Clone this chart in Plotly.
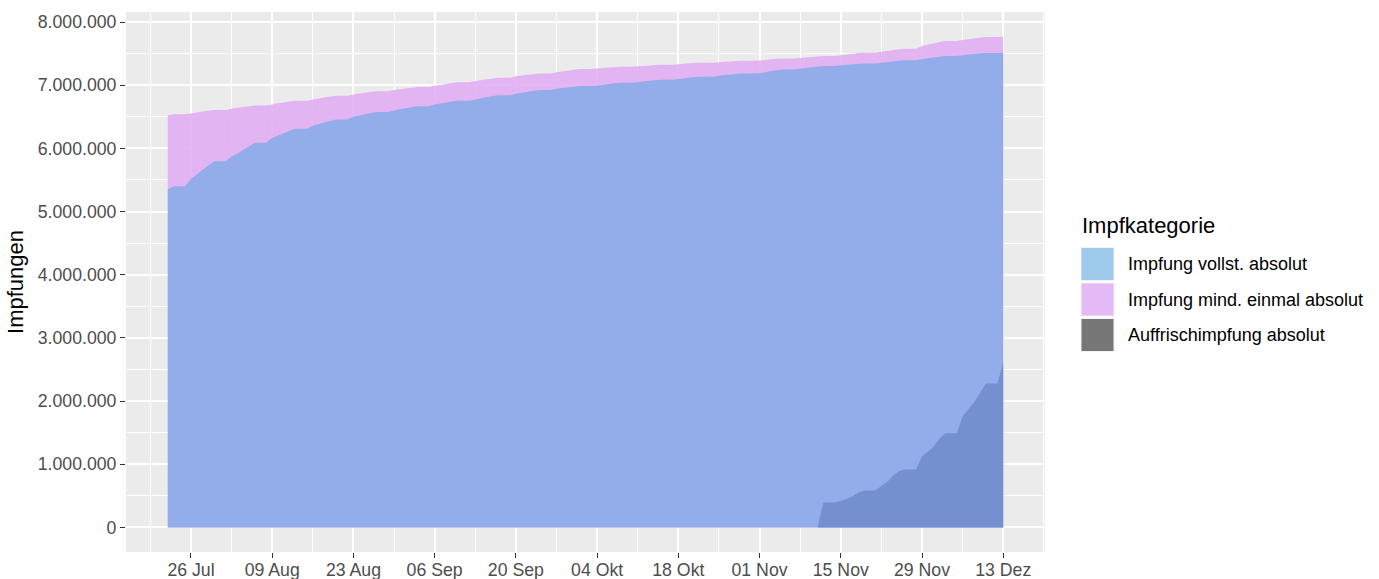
import pandas as pd
import plotly.graph_objects as go

# ---------------- data (thousands of vaccinations) ----------------
dates = pd.date_range("2021-07-22", "2021-12-13", freq="D")

# Impfung mind. einmal absolut (first dose), Thu 22 Jul .. Mon 13 Dez, week rows Mon..Sun
first_dose_k = [
    6526, 6540, 6540, 6540,
    6553, 6568, 6582, 6595, 6607, 6607, 6607,
    6627, 6642, 6655, 6667, 6678, 6678, 6678,
    6696, 6713, 6728, 6742, 6755, 6755, 6755,
    6775, 6791, 6806, 6820, 6833, 6833, 6833,
    6854, 6867, 6880, 6893, 6905, 6905, 6905,
    6922, 6935, 6948, 6960, 6972, 6972, 6972,
    6990, 7005, 7020, 7033, 7045, 7045, 7045,
    7065, 7080, 7094, 7107, 7118, 7118, 7118,
    7140, 7152, 7164, 7175, 7185, 7185, 7185,
    7205, 7217, 7230, 7243, 7255, 7255, 7255,
    7265, 7272, 7279, 7285, 7290, 7290, 7290,
    7298, 7305, 7312, 7318, 7323, 7323, 7323,
    7332, 7339, 7346, 7352, 7357, 7357, 7357,
    7365, 7371, 7377, 7382, 7387, 7387, 7387,
    7392, 7400, 7412, 7418, 7424, 7424, 7424,
    7432, 7440, 7448, 7456, 7463, 7463, 7463,
    7475, 7487, 7498, 7508, 7515, 7515, 7515,
    7530, 7543, 7555, 7567, 7578, 7578, 7578,
    7620, 7640, 7660, 7682, 7700, 7700, 7700,
    7715, 7728, 7740, 7752, 7762, 7762, 7762,
    7770,
]

# Impfung vollst. absolut (fully vaccinated)
full_k = [
    5349, 5400, 5400, 5400,
    5518, 5586, 5660, 5730, 5797, 5797, 5797,
    5870, 5920, 5975, 6030, 6089, 6089, 6089,
    6168, 6205, 6240, 6278, 6311, 6311, 6311,
    6358, 6385, 6410, 6435, 6458, 6458, 6458,
    6500, 6521, 6540, 6558, 6574, 6574, 6574,
    6600, 6618, 6635, 6650, 6665, 6665, 6665,
    6696, 6712, 6727, 6741, 6755, 6755, 6755,
    6775, 6795, 6812, 6828, 6842, 6842, 6842,
    6865, 6880, 6895, 6910, 6922, 6922, 6922,
    6945, 6955, 6965, 6975, 6986, 6986, 6986,
    6990, 7005, 7018, 7030, 7040, 7040, 7040,
    7050, 7060, 7070, 7080, 7088, 7088, 7088,
    7100, 7110, 7120, 7128, 7135, 7135, 7135,
    7150, 7160, 7170, 7178, 7185, 7185, 7185,
    7190, 7205, 7224, 7238, 7250, 7250, 7250,
    7262, 7273, 7284, 7295, 7305, 7305, 7305,
    7315, 7322, 7330, 7336, 7342, 7342, 7342,
    7355, 7365, 7375, 7385, 7395, 7395, 7395,
    7410, 7425, 7440, 7452, 7462, 7462, 7462,
    7475, 7485, 7494, 7502, 7510, 7510, 7510,
    7515,
]

# Auffrischimpfung absolut (booster), from Thu 11 Nov
booster_dates = pd.date_range("2021-11-11", "2021-12-13", freq="D")
booster_k = [
    0, 395, 395, 395,
    420, 450, 490, 550, 585, 585, 585,
    655, 720, 820, 890, 917, 917, 917,
    1125, 1200, 1280, 1400, 1490, 1490, 1490,
    1760, 1870, 1980, 2130, 2280, 2280, 2280,
    2610,
]

y_ticks = [0, 1000000, 2000000, 3000000, 4000000, 5000000, 6000000, 7000000, 8000000]
x_tick_dates = ["2021-07-26", "2021-08-09", "2021-08-23", "2021-09-06", "2021-09-20",
                "2021-10-04", "2021-10-18", "2021-11-01", "2021-11-15", "2021-11-29",
                "2021-12-13"]
x_tick_labels = ["26 Jul", "09 Aug", "23 Aug", "06 Sep", "20 Sep", "04 Okt",
                 "18 Okt", "01 Nov", "15 Nov", "29 Nov", "13 Dez"]

legend_title = "Impfkategorie"
legend_names = ["Impfung vollst. absolut", "Impfung mind. einmal absolut", "Auffrischimpfung absolut"]
legend_colors = ["#9DCAEA", "#E3BAF5", "#777777"]

first_dose = [v * 1000 for v in first_dose_k]
full = [v * 1000 for v in full_k]
booster = [v * 1000 for v in booster_k]

# ---------------- figure ----------------
FONT = "Liberation Sans, Arial, Helvetica, sans-serif"
W, H = 1379, 579
L, R, T, B = 126, 1045, 12, 552

fig = go.Figure()
fig.add_trace(go.Scatter(x=dates, y=first_dose, name=legend_names[1], mode="none",
                         fill="tozeroy", fillcolor="rgba(224,172,243,0.88)", showlegend=False))
fig.add_trace(go.Scatter(x=dates, y=full, name=legend_names[0], mode="none",
                         fill="tozeroy", fillcolor="rgba(136,172,232,0.88)", showlegend=False))
fig.add_trace(go.Scatter(x=booster_dates, y=booster, name=legend_names[2], mode="none",
                         fill="tozeroy", fillcolor="rgba(113,140,202,0.88)", showlegend=False))

ymax = max(first_dose)
pad = ymax * 0.05
x0 = dates[0] - pd.Timedelta(days=(dates[-1] - dates[0]).days * 0.05)
x1 = dates[-1] + pd.Timedelta(days=(dates[-1] - dates[0]).days * 0.05)

tickfont = dict(family=FONT, size=17.7, color="#4D4D4D")
fig.update_layout(
    width=W, height=H,
    margin=dict(l=L, r=W - R, t=T, b=H - B, pad=0),
    paper_bgcolor="white", plot_bgcolor="#EBEBEB",
    separators=",.",
    font=dict(family=FONT),
    xaxis=dict(
        range=[x0, x1], type="date",
        tickvals=x_tick_dates, ticktext=x_tick_labels,
        tickfont=tickfont, ticks="outside", ticklen=5, tickcolor="#333333", tickwidth=1.2,
        ticklabelstandoff=-3,
        showgrid=True, gridcolor="white", gridwidth=1.6, zeroline=False, showline=False,
        minor=dict(dtick=7 * 86400000, tick0="2021-07-19", showgrid=True,
                   gridcolor="white", gridwidth=0.8, ticks=""),
        automargin=False,
    ),
    yaxis=dict(
        range=[-pad, ymax + pad],
        tickvals=y_ticks, tickformat=",d",
        tickfont=tickfont, ticks="outside", ticklen=5, tickcolor="#333333", tickwidth=1.2,
        showgrid=True, gridcolor="white", gridwidth=1.6, zeroline=False, showline=False,
        minor=dict(dtick=500000, tick0=0, showgrid=True, gridcolor="white", gridwidth=0.8, ticks=""),
        title=dict(text="Impfungen", font=dict(family=FONT, size=22, color="black"), standoff=8),
        automargin=False,
    ),
)

# manual ggplot-like legend
def px_x(px):
    return (px - L) / (R - L)

def px_y(py):
    return (B - py) / (B - T)

fig.add_annotation(x=px_x(1080), y=px_y(225), xref="paper", yref="paper", text=legend_title,
                   showarrow=False, xanchor="left", yanchor="middle",
                   font=dict(family=FONT, size=22, color="black"))
centers = [264, 299.5, 335]
for name, col, cy in zip(legend_names, legend_colors, centers):
    fig.add_shape(type="rect", xref="paper", yref="paper",
                  x0=px_x(1081), x1=px_x(1114), y0=px_y(cy + 16.5), y1=px_y(cy - 16.5),
                  fillcolor=col, line=dict(width=1, color="#F2F2F2"))
    fig.add_annotation(x=px_x(1126), y=px_y(cy), xref="paper", yref="paper", text=name,
                       showarrow=False, xanchor="left", yanchor="middle",
                       font=dict(family=FONT, size=18, color="black"))

fig.write_html(
    "out.html",
    config={"displayModeBar": False},
    post_script="document.body.style.margin='0';document.body.style.overflow='hidden';",
)
